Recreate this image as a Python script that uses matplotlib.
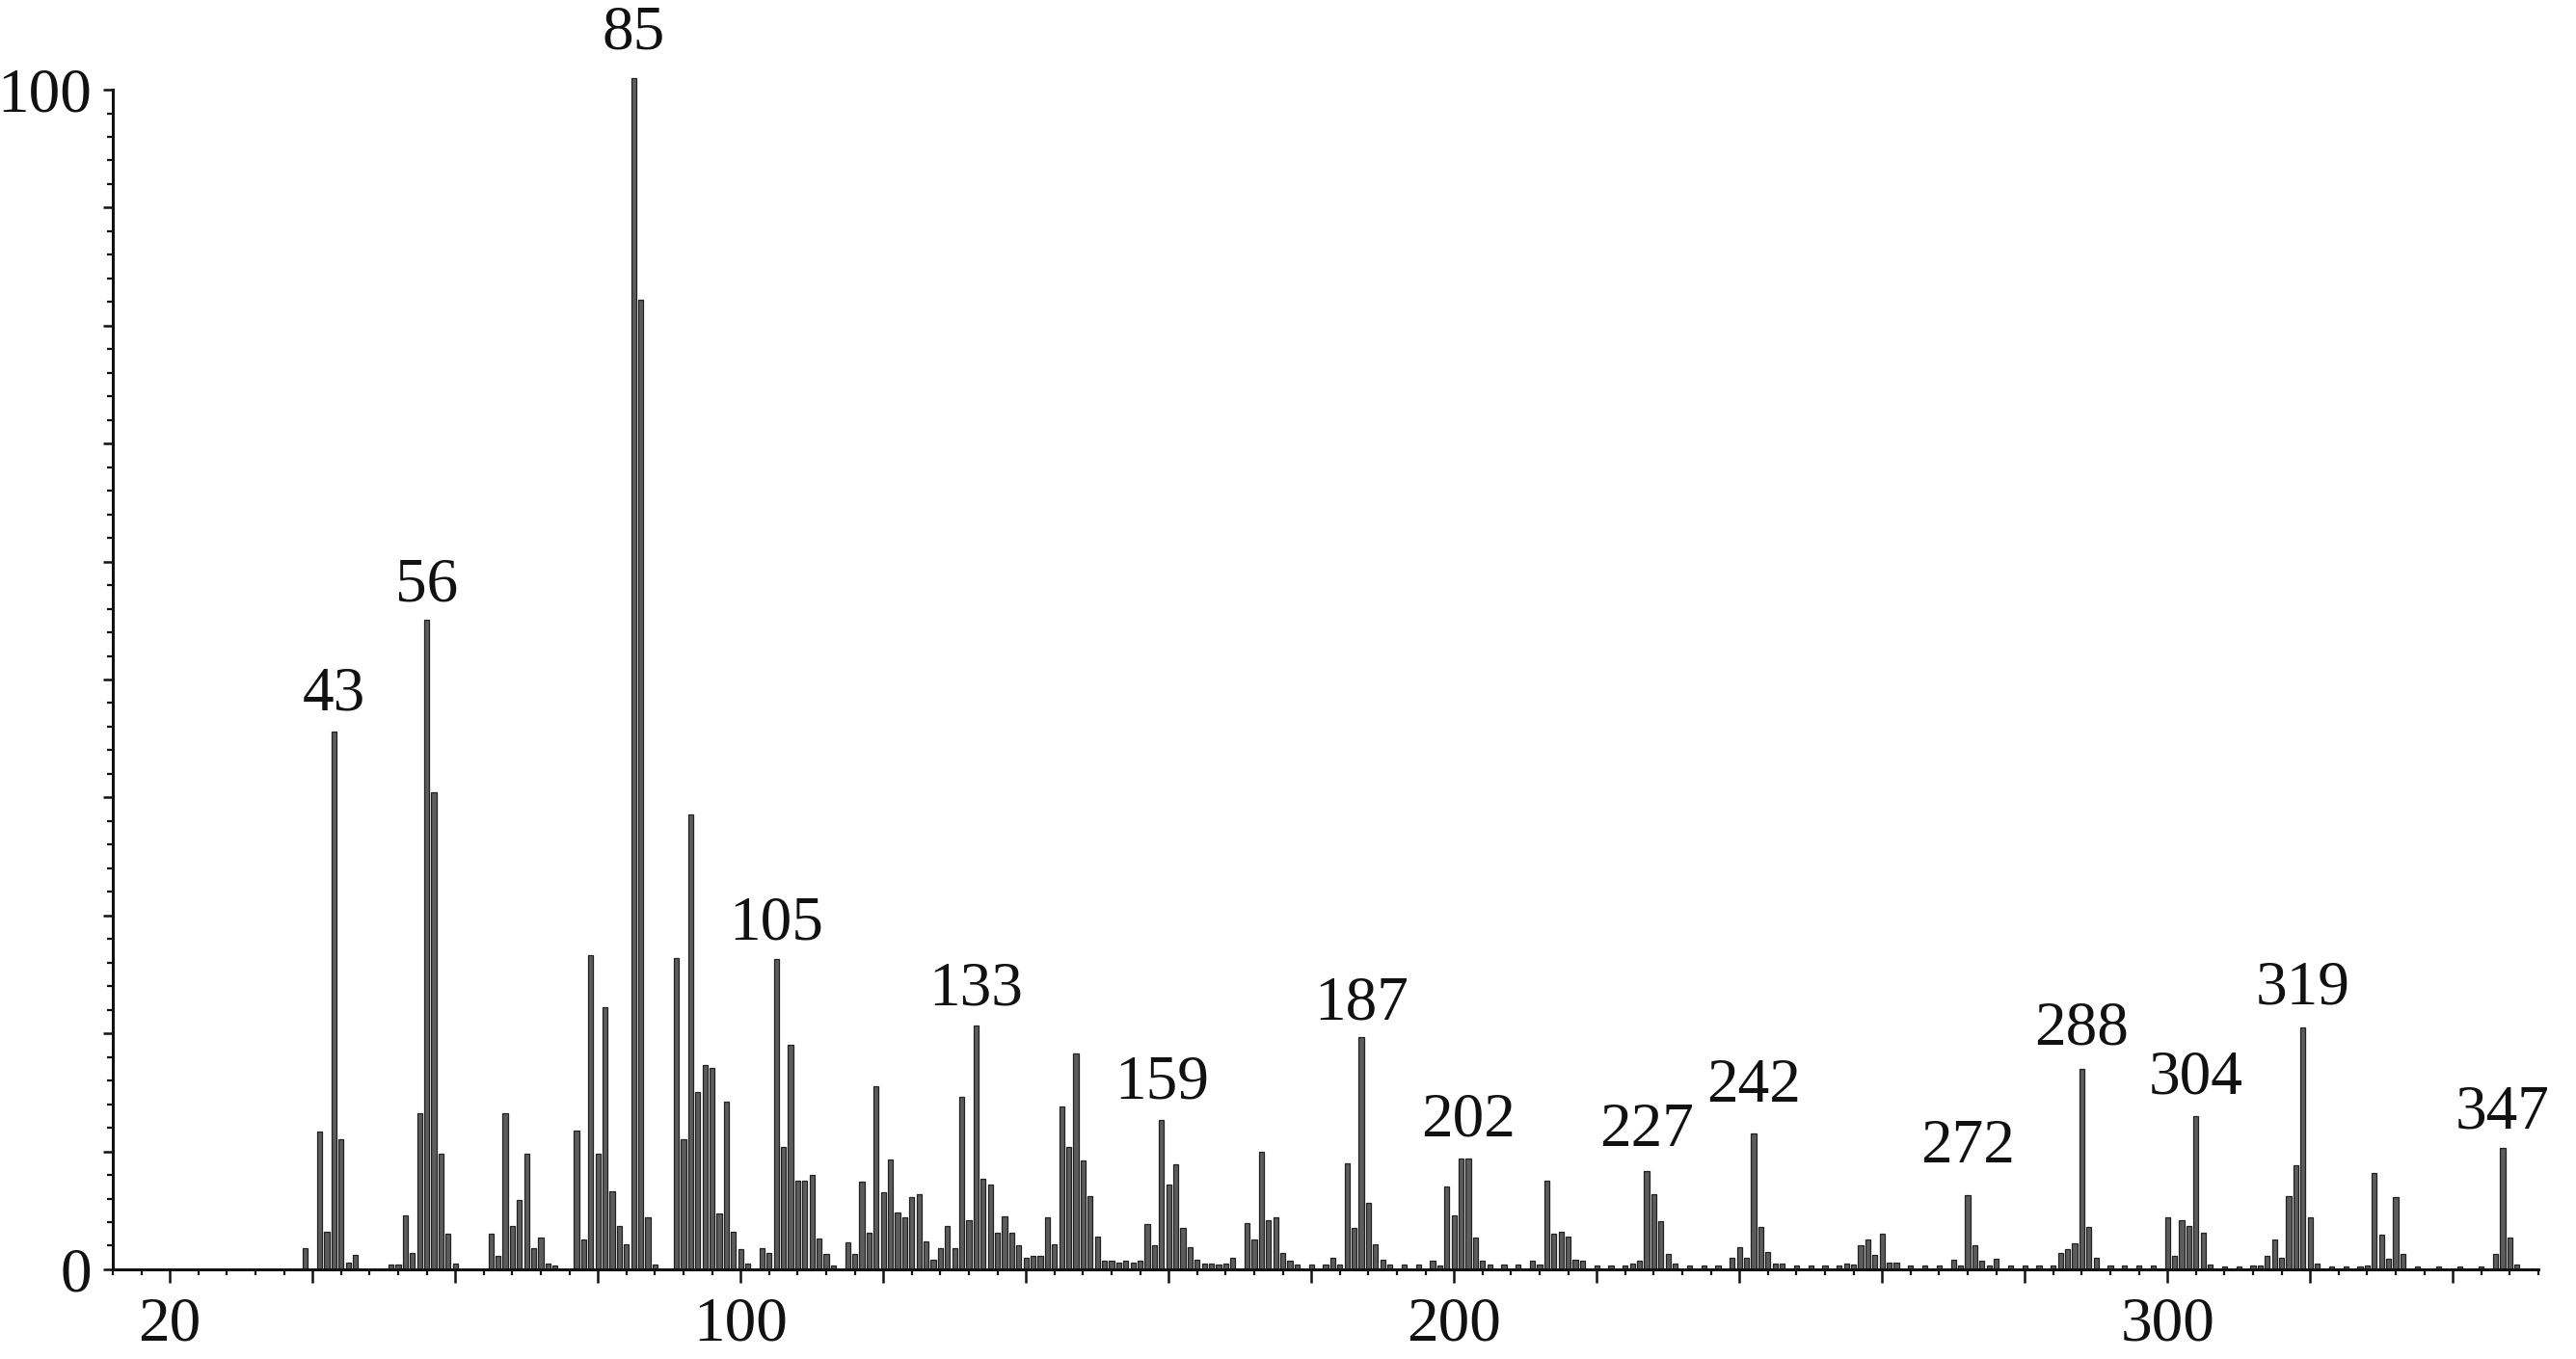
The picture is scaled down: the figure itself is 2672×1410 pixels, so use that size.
import matplotlib
matplotlib.use("Agg")
import matplotlib.pyplot as plt
from matplotlib.ticker import FixedLocator, MultipleLocator, FixedFormatter, NullFormatter

# ---- data (m/z, relative intensity %) ----
mz = [39, 41, 42, 43, 44, 45, 46, 51, 52, 53, 54, 55, 56, 57, 58, 59, 60,
      65, 66, 67, 68, 69, 70, 71, 72, 73, 74, 77, 78, 79, 80, 81, 82, 83, 84,
      85, 86, 87, 88, 91, 92, 93, 94, 95, 96, 97, 98, 99, 100, 101, 103, 104,
      105, 106, 107, 108, 109, 110, 111, 112, 113, 115, 116, 117, 118, 119, 120,
      121, 122, 123, 124, 125, 126, 127, 128, 129, 130, 131, 132, 133, 134, 135,
      136, 137, 138, 139, 140, 141, 142, 143, 144, 145, 146, 147, 148, 149, 150,
      151, 152, 153, 154, 155, 156, 157, 158, 159, 160, 161, 162, 163, 164, 165,
      166, 167, 168, 169, 171, 172, 173, 174, 175, 176, 177, 178, 180, 182, 183,
      184, 185, 186, 187, 188, 189, 190, 191, 193, 195, 197, 198, 199, 200, 201,
      202, 203, 204, 205, 207, 209, 211, 212, 213, 214, 215, 216, 217, 218, 220,
      222, 224, 225, 226, 227, 228, 229, 230, 231, 233, 235, 237, 239, 240, 241,
      242, 243, 244, 245, 246, 248, 250, 252, 254, 255, 256, 257, 258, 259, 260,
      261, 262, 264, 266, 268, 270, 271, 272, 273, 274, 275, 276, 278, 280, 282,
      284, 285, 286, 287, 288, 289, 290, 292, 294, 296, 298, 300, 301, 302, 303,
      304, 305, 306, 308, 310, 312, 313, 314, 315, 316, 317, 318, 319, 320, 321,
      323, 325, 327, 328, 329, 330, 331, 332, 333, 335, 338, 341, 344, 346, 347,
      348, 349]
intensity = [1.8, 11.7, 3.2, 45.6, 11.0, 0.6, 1.2, 0.4, 0.4, 4.6, 1.4, 13.2, 55.1, 40.4, 9.8, 3.0, 0.5,
             3.0, 1.1, 13.2, 3.7, 5.9, 9.8, 1.8, 2.7, 0.5, 0.3, 11.8, 2.5, 26.6, 9.8, 22.2, 6.6, 3.7, 2.1,
             101.0, 82.2, 4.4, 0.4, 26.4, 11.0, 38.6, 15.0, 17.3, 17.1, 4.7, 14.2, 3.2, 1.7, 0.5, 1.8, 1.4,
             26.3, 10.4, 19.0, 7.5, 7.5, 8.0, 2.6, 1.3, 0.3, 2.3, 1.3, 7.4, 3.1, 15.5, 6.5,
             9.3, 4.8, 4.4, 6.1, 6.4, 2.4, 0.8, 1.8, 3.7, 1.8, 14.6, 4.2, 20.7, 7.7, 7.2,
             3.1, 4.5, 3.1, 2.0, 1.0, 1.1, 1.1, 4.4, 2.1, 13.8, 10.4, 18.3, 9.2, 6.2, 2.8,
             0.7, 0.7, 0.6, 0.7, 0.6, 0.7, 3.8, 2.0, 12.7, 7.2, 8.9, 3.5, 1.9, 0.8, 0.5,
             0.5, 0.4, 0.5, 1.0, 3.9, 2.5, 10.0, 4.2, 4.4, 1.4, 0.7, 0.4, 0.4, 0.4, 1.0,
             0.4, 9.0, 3.5, 19.7, 5.6, 2.1, 0.8, 0.4, 0.4, 0.4, 0.7, 0.3, 7.0, 4.6, 9.4,
             9.4, 2.7, 0.7, 0.4, 0.4, 0.4, 0.7, 0.4, 7.5, 3.0, 3.2, 2.8, 0.8, 0.7, 0.3,
             0.3, 0.3, 0.5, 0.7, 8.3, 6.4, 4.1, 1.3, 0.5, 0.3, 0.3, 0.3, 1.0, 1.9, 1.0,
             11.5, 3.6, 1.5, 0.5, 0.5, 0.3, 0.3, 0.3, 0.3, 0.5, 0.4, 2.0, 2.5, 1.2, 3.0,
             0.6, 0.6, 0.3, 0.3, 0.3, 0.8, 0.3, 6.3, 2.0, 0.7, 0.3, 0.9, 0.3, 0.3, 0.3,
             0.3, 1.4, 1.7, 2.2, 17.0, 3.6, 1.0, 0.3, 0.3, 0.3, 0.3, 4.4, 1.1, 4.2, 3.7,
             13.0, 3.1, 0.4, 0.2, 0.2, 0.3, 0.3, 1.1, 2.5, 1.0, 6.2, 8.8, 20.5, 4.4, 0.5,
             0.2, 0.2, 0.2, 0.3, 8.2, 2.9, 0.9, 6.1, 1.3, 0.2, 0.2, 0.2, 0.2, 1.3, 10.3,
             2.7, 0.4]

label_mz = [43, 56, 85, 105, 133, 159, 187, 202, 227, 242, 272, 288, 304, 319, 347]
x_tick_label_pos = [20, 100, 200, 300]
y_tick_label_pos = [0, 100]

# label gap above peak (pixels) -- layout only
label_gap_px = {43: 22, 56: 19, 85: 30, 105: 21, 133: 21, 159: 22, 187: 18, 202: 23,
                227: 26, 242: 33, 272: 34, 288: 25, 304: 23, 319: 25, 347: 20}

FONT = "Liberation Serif"
FS = 47
DPI = 100
INK = "#111111"

fig = plt.figure(figsize=(26.72, 14.10), dpi=DPI)
ax = fig.add_axes([0.0438, 0.066, 0.9854 - 0.0438, 0.934 - 0.066])

ax.bar(mz, intensity, width=0.72, color="#5c5c5c", edgecolor="#222222",
       linewidth=0.9, clip_on=False, zorder=2)

ax.set_xlim(12, 352)
ax.set_ylim(0, 100)

for s in ["top", "right"]:
    ax.spines[s].set_visible(False)
for s in ["left", "bottom"]:
    ax.spines[s].set_linewidth(2.2)
    ax.spines[s].set_color(INK)
    ax.spines[s].set_zorder(3)

# x ticks: major every 20, minor every 4
xmaj = list(range(20, 341, 20))
ax.xaxis.set_major_locator(FixedLocator(xmaj))
ax.xaxis.set_minor_locator(FixedLocator(list(range(12, 353, 4))))
ax.xaxis.set_major_formatter(FixedFormatter([str(v) if v in x_tick_label_pos else "" for v in xmaj]))
ax.xaxis.set_minor_formatter(NullFormatter())
ax.tick_params(axis="x", which="major", direction="out", length=10, width=1.8,
               pad=10, labelsize=FS, color=INK)
ax.tick_params(axis="x", which="minor", direction="out", length=4.5, width=1.6,
               color=INK)

# y ticks: major every 10, minor every 2
ymaj = list(range(0, 101, 10))
ax.yaxis.set_major_locator(FixedLocator(ymaj))
ax.yaxis.set_minor_locator(MultipleLocator(2))
ax.yaxis.set_major_formatter(FixedFormatter([str(v) if v in y_tick_label_pos else "" for v in ymaj]))
ax.yaxis.set_minor_formatter(NullFormatter())
ax.tick_params(axis="y", which="major", direction="out", length=7, width=1.8,
               pad=9, labelsize=FS, color=INK)
ax.tick_params(axis="y", which="minor", direction="out", length=4, width=1.6,
               color=INK)

for lbl in ax.get_xticklabels() + ax.get_yticklabels():
    lbl.set_fontfamily(FONT)
    lbl.set_color(INK)

lookup = dict(zip(mz, intensity))
for m in label_mz:
    gap_pt = label_gap_px[m] * 72.0 / DPI
    ax.annotate(str(m), xy=(m, lookup[m]), xytext=(0, gap_pt),
                textcoords="offset points", ha="center", va="baseline",
                fontsize=FS, fontfamily=FONT, color=INK,
                annotation_clip=False)

fig.savefig("out.png", dpi=DPI, facecolor="white")
